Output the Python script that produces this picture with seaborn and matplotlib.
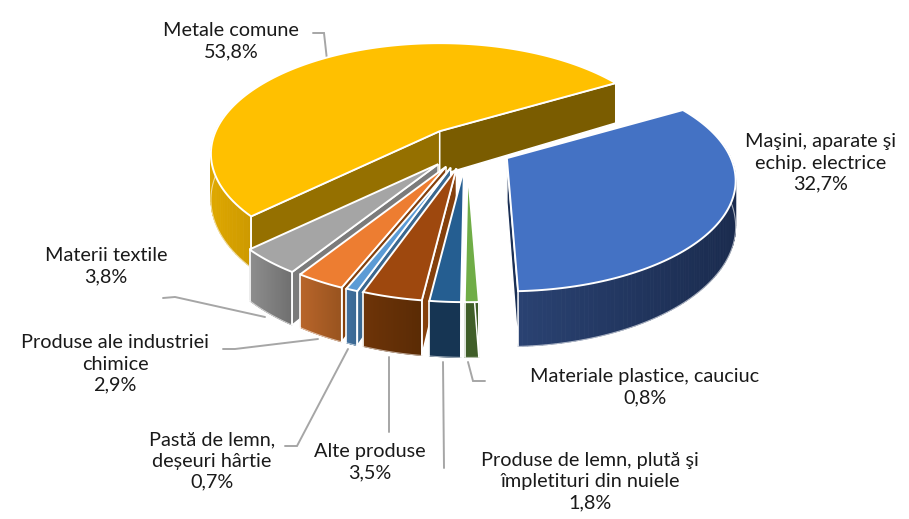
# 3D exploded pie: export structure by product group
import numpy as np
import matplotlib.pyplot as plt
from matplotlib.colors import to_rgb
import seaborn as sns

# -----------------------------
# Data, clockwise from the start angle
# -----------------------------
labels = ["Maşini, aparate şi\nechip. electrice", "Materiale plastice, cauciuc",
          "Produse de lemn, plută şi\nîmpletituri din nuiele", "Alte produse",
          "Pastă de lemn,\ndeșeuri hârtie", "Produse ale industriei\nchimice",
          "Materii textile", "Metale comune"]
values = [32.7, 0.8, 1.8, 3.5, 0.7, 2.9, 3.8, 53.8]
top_colors = ["#4472C4", "#70AD47", "#255E91", "#9E480E", "#5B9BD5", "#ED7D31", "#A5A5A5", "#FFC000"]
rim_left = ["#2A4272", "#3F5E28", "#163553", "#6E3408", "#406F9E", "#B8652A", "#8E8E8E", "#DFA800"]
rim_right = ["#1A2B4E", "#3F5E28", "#163553", "#5A2B05", "#3A6890", "#98531F", "#6F6F6F", "#CC9900"]
cut_colors = ["#1A2F55", "#3F5E28", "#2E6BA0", "#85400C", "#3A6890", "#85400C", "#7B7B7B", "#957000"]
yellow_far_cut = "#7A5C00"

# label centres and leader lines (pixels)
label_xy = [(821, 163), (645, 387), (590, 482), (370, 462), (212, 461), (115, 364), (106, 266), (231, 41)]
leaders = [
    [(313, 33), (324, 33), (327, 60)],
    [(163, 298), (175, 297), (265, 317)],
    [(223, 349), (235, 349), (318, 339)],
    [(285, 446), (297, 446), (348, 349)],
    [(389, 357), (389, 432)],
    [(443, 362), (444, 468)],
    [(468, 362), (473, 381), (485, 381)],
]

# -----------------------------
# Projection settings
# -----------------------------
start_deg = 60
cx, cy = 467, 148
rx, ry, persp = 224, 106, 0.204
depth = 44
ex, ey = 45.5, 21


def project(theta):
    u, v = np.sin(theta), np.cos(theta)
    k = 1 + persp * v
    return rx * u / k, -ry * v / k, depth / k


sns.set_theme(style="white")
plt.rcParams["font.family"] = ["Lato", "DejaVu Sans"]
fig, ax = plt.subplots(figsize=(9.09, 5.19), dpi=100)
fig.subplots_adjust(0, 0, 1, 1)
ax.set_xlim(0, 909)
ax.set_ylim(519, 0)
ax.axis("off")

angles = np.radians(start_deg + np.concatenate([[0], np.cumsum(values)]) / sum(values) * 360)


def draw_slice(i):
    a0, a1 = angles[i], angles[i + 1]
    mid = (a0 + a1) / 2
    ax0 = cx + ex * np.sin(mid)
    ay0 = cy - ey * np.cos(mid)
    th = np.linspace(a0, a1, 120)
    px, py, pd = project(th)
    x, y = ax0 + px, ay0 + py
    bottom = y + pd

    # outer wall, only where it faces the viewer
    vis = np.where(np.cos(th) < 0.15)[0]
    left, right = np.array(to_rgb(rim_left[i])), np.array(to_rgb(rim_right[i]))
    if len(vis) > 1:
        xmin, xmax = x[vis].min(), x[vis].max()
        for a, b in zip(vis[:-1], vis[1:]):
            if b != a + 1:
                continue
            t = ((x[a] + x[b]) / 2 - xmin) / max(xmax - xmin, 1)
            c = left + (right - left) * t
            ax.fill([x[a], x[b], x[b], x[a]], [y[a], y[b], bottom[b], bottom[a]],
                    color=c, lw=0.6, zorder=i_order[i])
        ax.plot(x[vis], bottom[vis], color="white", lw=0.8, alpha=0.6, zorder=i_order[i] + 0.1)

    # cut faces
    cuts = []
    if labels[i] == "Metale comune":
        cuts = [(0, cut_colors[i]), (-1, yellow_far_cut)]
    elif labels[i].startswith("Maşini"):
        cuts = [(-1, cut_colors[i])]
    else:
        cuts = [(0, cut_colors[i])]
    for idx, col in cuts:
        ax.fill([ax0, x[idx], x[idx], ax0], [ay0, y[idx], bottom[idx], ay0 + depth],
                facecolor=col, edgecolor="white", lw=1.1, zorder=i_order[i] + 0.2)

    # top face
    ax.fill(np.r_[ax0, x], np.r_[ay0, y], facecolor=top_colors[i], edgecolor="white",
            lw=1.4, joinstyle="miter", zorder=i_order[i] + 0.3)
    # vertical edges of the rim
    for idx in (0, -1):
        if np.cos(th[idx]) < 0.6 and not labels[i].startswith("Maşini"):
            ax.plot([x[idx], x[idx]], [y[idx], bottom[idx]], color="white", lw=1.2, zorder=i_order[i] + 0.25)


# far slices first, then the small ones left to right
draw_order = [7, 0, 6, 5, 4, 3, 2, 1]
i_order = {s: 2 + n for n, s in enumerate(draw_order)}
for s in draw_order:
    draw_slice(s)

for line in leaders:
    xs, ys = zip(*line)
    ax.plot(xs, ys, color="#A6A6A6", lw=1.4, zorder=1.5, solid_joinstyle="miter")

for lab, val, (lx, ly) in zip(labels, values, label_xy):
    txt = lab + "\n" + f"{val:.1f}".replace(".", ",") + "%"
    ax.text(lx, ly, txt, ha="center", va="center", fontsize=14.3, color="#1A1A1A",
            linespacing=1.3, zorder=20)

fig.savefig("out.png", dpi=100)
